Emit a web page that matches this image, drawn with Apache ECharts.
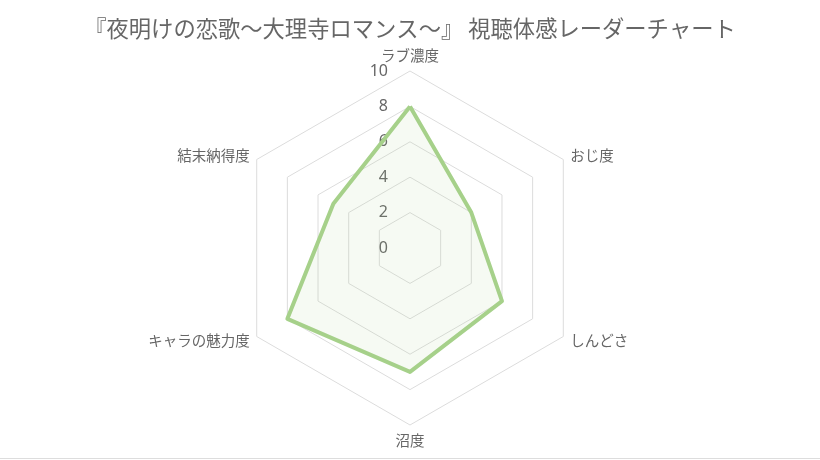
<!DOCTYPE html>
<html><head><meta charset="utf-8">
<script src="https://cdn.jsdelivr.net/npm/echarts@6/dist/echarts.min.js"></script>
<style>html,body{margin:0;padding:0;background:#fff}#c{width:820px;height:460px}</style>
</head><body><div id="c"></div>
<script>
const titleText = '『夜明けの恋歌～大理寺ロマンス～』 視聴体感レーダーチャート';
const categories = ['ラブ濃度', 'おじ度', 'しんどさ', '沼度', 'キャラの魅力度', '結末納得度'];
const values = [8, 4, 6, 7, 8, 5];
const tickMax = 10;
const tickStep = 2;

const FONT = '"Noto Sans CJK JP", "Noto Sans", sans-serif';
// ECharts lays radar indicators counter-clockwise; reorder so they run clockwise from the top
const order = [0].concat(categories.map((_, i) => i).slice(1).reverse());
const indicator = order.map(i => ({ name: categories[i], max: tickMax, min: 0 }));
const data = order.map(i => values[i]);

const chart = echarts.init(document.getElementById('c'), null, { renderer: 'canvas' });
chart.setOption({
  animation: false,
  title: {
    text: titleText, left: 'center', top: 12,
    textStyle: { fontFamily: FONT, fontSize: 22.3, fontWeight: 'normal', color: '#666' }
  },
  radar: {
    center: [410, 248], radius: 177, startAngle: 90,
    splitNumber: tickMax / tickStep,
    indicator: indicator,
    axisName: { color: '#666', fontSize: 14.5, fontFamily: FONT },
    nameGap: 8,
    axisLine: { show: false },
    splitLine: { lineStyle: { color: '#dcdcdc', width: 1 } },
    splitArea: { show: false },
    axisLabel: { show: false }
  },
  polar: { center: [410, 248], radius: 177 },
  angleAxis: { show: false, startAngle: 90, min: 0, max: 360 },
  radiusAxis: {
    min: 0, max: tickMax, interval: tickStep,
    axisLine: { show: false }, axisTick: { show: false }, splitLine: { show: false },
    axisLabel: { show: true, color: '#666', fontSize: 16, fontFamily: '"Noto Sans", "Open Sans", sans-serif', margin: 22 }
  },
  series: [{
    type: 'radar',
    symbol: 'none',
    lineStyle: { color: '#a6d18a', width: 4 },
    areaStyle: { color: 'rgba(166,209,138,0.15)' },
    data: [{ value: data }]
  }],
  graphic: [{
    type: 'line', shape: { x1: 0, y1: 458.5, x2: 820, y2: 458.5 },
    style: { stroke: '#dddddd', lineWidth: 1 }
  }]
});
</script></body></html>
